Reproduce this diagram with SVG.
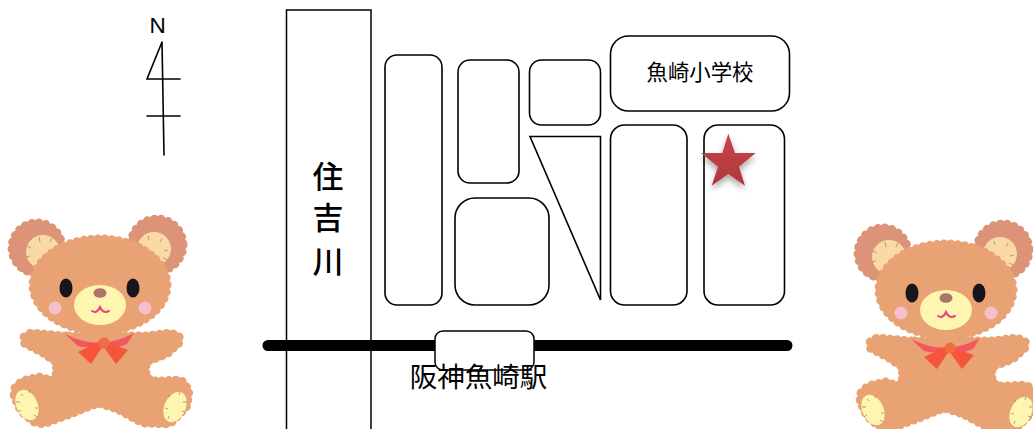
<svg xmlns="http://www.w3.org/2000/svg" width="1033" height="429" viewBox="0 0 1033 429">
<style>
.b{fill:#fff;stroke:#000;stroke-width:1.6}
.h{fill:none;stroke:#000;stroke-width:1.6;stroke-linecap:round}
text{font-family:"Noto Sans CJK JP","Liberation Sans",sans-serif;fill:#000;text-anchor:middle}
.tan{fill:#e9a273;stroke:#e9a273;stroke-width:9;stroke-linecap:round;stroke-dasharray:0 7}
.ear{fill:#dd9377;stroke:#dd9377;stroke-width:9;stroke-linecap:round;stroke-dasharray:0 7}
.st{fill:none;stroke:#8a7f70;stroke-width:.7}
</style>
<defs>
<filter id="soft" x="-5%" y="-5%" width="110%" height="110%"><feGaussianBlur stdDeviation="0.6"/></filter>
<filter id="sh" x="-40%" y="-40%" width="180%" height="190%"><feDropShadow dx="0" dy="4" stdDeviation="3" flood-color="#000" flood-opacity=".35"/></filter>
<linearGradient id="sg" x1="0" y1="0" x2="0" y2="1"><stop offset="0" stop-color="#c9464a"/><stop offset="1" stop-color="#ae3639"/></linearGradient>
<g id="bear" filter="url(#soft)">
<circle class="ear" cx="37" cy="248" r="25"/>
<circle class="ear" cx="157" cy="245" r="26"/>
<circle cx="43" cy="252" r="17" fill="#fad9a6"/>
<circle cx="154" cy="249" r="17" fill="#fad9a6"/>
<path class="st" d="M39 237l1 5M27 246l4 2M26 257l4-1M52 238l-2 4M148 236l1 4M162 238l-2 4M168 250l-4 1M167 260l-4-2"/>
<path class="tan" d="M65 336L31 333L24 337L24 343L32 347L43 353L56 362L57 373L52 381L40 377L22 381L15 388L14 396L21 411L34 422L43 424L73 413L98 403L117 409L143 423L170 424L187 406L189 390L181 380L160 381L150 381L146 373L146 362L167 354L180 342L179 336L170 333L147 336L133 336Z"/>
<ellipse class="tan" cx="100" cy="285" rx="67" ry="46"/>
<path d="M65 334Q100 352 134 333L127 344Q108 352 104 342Q92 350 78 346Z" fill="#f4565f"/>
<path d="M101 341L78 352L91 364L103 346L116 364L128 350Z" fill="#f4553a"/>
<circle cx="104" cy="343" r="5.500" fill="#ee6d43"/>
<ellipse cx="100" cy="305" rx="26" ry="20" fill="#fdf5b0"/>
<ellipse cx="100" cy="293" rx="6.500" ry="4.800" fill="#a9746c"/>
<path d="M92 311Q97 314 100 307Q103 314 109 311" fill="none" stroke="#e8457e" stroke-width="2" stroke-linecap="round"/>
<ellipse cx="66" cy="288" rx="6.500" ry="9.500" fill="#17171a"/>
<ellipse cx="133" cy="288" rx="6.500" ry="9.500" fill="#17171a"/>
<circle cx="55" cy="308" r="6.500" fill="#f5bfcb"/>
<circle cx="145" cy="308" r="6.500" fill="#f5bfcb"/>
<ellipse cx="27" cy="405" rx="10.500" ry="16" transform="rotate(-25 27 405)" fill="#fdf5b0"/>
<ellipse cx="175" cy="407" rx="10.500" ry="16" transform="rotate(25 175 407)" fill="#fdf5b0"/>
<path class="st" d="M21 394l2 2M16 402l4 0M18 412l3-2M30 390l-1 3M38 408l-3 0M37 417l-3-2M180 392l-1 3M187 402l-4 0M185 412l-3-1M168 395l2 2M165 408l3 1M168 419l1-3"/>
</g>
</defs>

<g id="bear-left"><use href="#bear"/></g>
<g id="bear-right"><use href="#bear" x="846" y="5"/></g>

<g id="north">
<text x="157.500" y="33" style="font-family:'Liberation Sans',sans-serif" font-size="22.500">N</text>
<path class="h" d="M162 42L147 79H180M162 42L164 155M147 116H180"/>
</g>

<g id="railway"><line x1="268" y1="345.500" x2="787" y2="345.500" stroke="#000" stroke-width="11" stroke-linecap="round"/></g>

<g id="river"><path d="M286.500 429V10H371V429" fill="none" stroke="#000" stroke-width="1.500"/>
<text x="328" y="188" font-size="31" font-weight="500">住</text>
<text x="328" y="229" font-size="31" font-weight="500">吉</text>
<text x="328" y="273" font-size="31" font-weight="500">川</text></g>

<g id="block-1"><rect class="b" x="385" y="55" width="57" height="250" rx="12"/></g>
<g id="block-2"><rect class="b" x="458" y="60" width="61" height="123" rx="12"/></g>
<g id="block-3"><rect class="b" x="455" y="198" width="94" height="107" rx="20"/></g>
<g id="block-4"><rect class="b" x="529.500" y="60" width="71" height="65" rx="12"/></g>
<g id="block-5"><path class="b" d="M530 136.500H600.500V300Z"/></g>
<g id="school"><rect class="b" x="610.500" y="36" width="179" height="75" rx="18"/>
<text x="700" y="80" font-size="21.400">魚崎小学校</text></g>
<g id="block-6"><rect class="b" x="610.500" y="125" width="76.500" height="180" rx="14"/></g>
<g id="block-7"><rect class="b" x="704" y="125" width="80.500" height="180" rx="14"/></g>

<g id="star"><path d="M728.300 133.500L735 153H755.700L739 166.700L745 185.700L728.300 174L711.700 185.700L718 166.700L701 153H722.300Z" fill="url(#sg)" filter="url(#sh)"/></g>

<g id="station"><rect x="435" y="331" width="99" height="39" rx="8" fill="#fff" stroke="#000" stroke-width="1.500"/>
<text x="478.500" y="387" font-size="27.500">阪神魚崎駅</text></g>
</svg>
